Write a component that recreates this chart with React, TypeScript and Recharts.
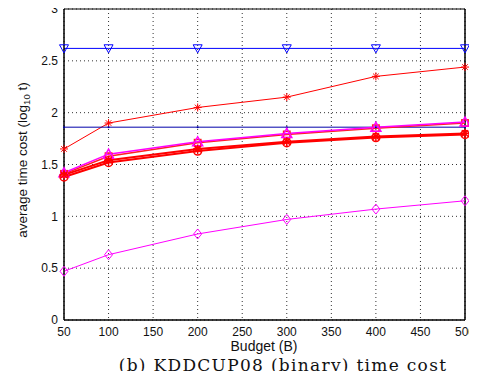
import React from 'react';
import { LineChart, Line, XAxis, YAxis, CartesianGrid, ReferenceLine, Label } from 'recharts';

const budgets = [50, 100, 200, 300, 400, 500];
const blueTri = [2.62, 2.62, 2.62, 2.62, 2.62, 2.62];
const redStar = [1.65, 1.9, 2.05, 2.15, 2.35, 2.44];
const blueFlat = [1.86, 1.86, 1.86, 1.86, 1.86, 1.86];
const magentaTri = [1.42, 1.6, 1.72, 1.8, 1.86, 1.91];
const redSquare = [1.41, 1.58, 1.71, 1.79, 1.85, 1.9];
const redCircle = [1.38, 1.52, 1.63, 1.71, 1.76, 1.79];
const redStar2 = [1.4, 1.54, 1.65, 1.72, 1.77, 1.8];
const magentaDiamond = [0.47, 0.63, 0.83, 0.97, 1.07, 1.15];

const xTicks = [50, 100, 150, 200, 250, 300, 350, 400, 450, 500];
const yTicks = [0, 0.5, 1, 1.5, 2, 2.5, 3];

const data = budgets.map((b, i) => ({
  b,
  blueTri: blueTri[i],
  redStar: redStar[i],
  blueFlat: blueFlat[i],
  magentaTri: magentaTri[i],
  redSquare: redSquare[i],
  redCircle: redCircle[i],
  redStar2: redStar2[i],
  magentaDiamond: magentaDiamond[i],
}));

type Shape = 'triDown' | 'triUp' | 'star' | 'square' | 'circle' | 'diamond' | 'point';

const makeDot = (shape: Shape, color: string, s: number, sw = 1) => (props: any) => {
  const { cx, cy, index } = props;
  if (cx == null || cy == null) return <g key={index} />;
  const k = `d${index}`;
  switch (shape) {
    case 'triDown':
      return <polygon key={k} points={`${cx - s},${cy - s * 0.8} ${cx + s},${cy - s * 0.8} ${cx},${cy + s}`} fill="none" stroke={color} strokeWidth={sw} />;
    case 'triUp':
      return <polygon key={k} points={`${cx - s},${cy + s * 0.8} ${cx + s},${cy + s * 0.8} ${cx},${cy - s}`} fill="none" stroke={color} strokeWidth={sw} />;
    case 'square':
      return <rect key={k} x={cx - s * 0.8} y={cy - s * 0.8} width={s * 1.6} height={s * 1.6} fill="none" stroke={color} strokeWidth={sw} />;
    case 'circle':
      return <circle key={k} cx={cx} cy={cy} r={s} fill="none" stroke={color} strokeWidth={sw} />;
    case 'diamond':
      return <polygon key={k} points={`${cx},${cy - s} ${cx + s * 0.8},${cy} ${cx},${cy + s} ${cx - s * 0.8},${cy}`} fill="none" stroke={color} strokeWidth={sw} />;
    case 'point':
      return <circle key={k} cx={cx} cy={cy} r={1} fill={color} />;
    case 'star':
    default: {
      const d = s * 0.7;
      return (
        <g key={k} stroke={color} strokeWidth={sw}>
          <line x1={cx - s} y1={cy} x2={cx + s} y2={cy} />
          <line x1={cx} y1={cy - s} x2={cx} y2={cy + s} />
          <line x1={cx - d} y1={cy - d} x2={cx + d} y2={cy + d} />
          <line x1={cx - d} y1={cy + d} x2={cx + d} y2={cy - d} />
        </g>
      );
    }
  }
};

const sans = 'Liberation Sans, Arial, sans-serif';
const tickStyle = { fontSize: 12, fill: '#111', fontFamily: sans };

const YTitle = () => (
  <text
    x={22}
    y={160}
    transform="rotate(-90, 22, 160)"
    textAnchor="middle"
    dominantBaseline="central"
    fontSize={13.5}
    fontFamily={sans}
    fill="#111"
  >
    average time cost (log
    <tspan fontSize={9.5} dy={4}>10</tspan>
    <tspan dy={-4}> t)</tspan>
  </text>
);

const XTitle = () => (
  <text x={264} y={346} textAnchor="middle" dominantBaseline="central" fontSize={14} fontFamily={sans} fill="#111">
    Budget (B)
  </text>
);

const App: React.FC = () => {
  return (
    <div style={{ position: 'relative', width: 477, height: 379, margin: -8, background: '#fff' }}>
      <LineChart
        width={477}
        height={379}
        data={data}
        margin={{ top: 9, right: 12, left: 0, bottom: 0 }}
        style={{ overflow: 'visible' }}
      >
        <CartesianGrid stroke="#333" strokeDasharray="1 3" />
        <XAxis
          dataKey="b"
          type="number"
          domain={[50, 500]}
          ticks={xTicks}
          height={59}
          tick={tickStyle}
          tickSize={-5}
          tickMargin={12}
          axisLine={{ stroke: '#000', strokeWidth: 1.5 }}
          tickLine={false}
        >
          <Label content={<XTitle />} />
        </XAxis>
        <YAxis
          type="number"
          domain={[0, 3]}
          ticks={yTicks}
          width={64}
          tick={tickStyle}
          tickSize={-5}
          tickMargin={11}
          axisLine={{ stroke: '#000', strokeWidth: 1.5 }}
          tickLine={false}
        >
          <Label content={<YTitle />} />
        </YAxis>
        <ReferenceLine y={3} stroke="#000" strokeWidth={1} />
        <ReferenceLine x={500} stroke="#000" strokeWidth={1.5} />
        <Line dataKey="blueTri" stroke="#0000ff" strokeWidth={1} dot={makeDot('triDown', '#0000ff', 4.5)} isAnimationActive={false} />
        <Line dataKey="redStar" stroke="#ff0000" strokeWidth={1} dot={makeDot('star', '#ff0000', 4)} isAnimationActive={false} />
        <Line dataKey="blueFlat" stroke="#0000aa" strokeWidth={1} dot={makeDot('point', '#0000aa', 1)} isAnimationActive={false} />
        <Line dataKey="redSquare" stroke="#ff2020" strokeWidth={1.5} dot={makeDot('square', '#ff2020', 4, 1.5)} isAnimationActive={false} />
        <Line dataKey="magentaTri" stroke="#ff00ff" strokeWidth={1.5} dot={makeDot('triUp', '#ff00ff', 5, 1.5)} isAnimationActive={false} />
        <Line dataKey="redCircle" stroke="#ff0000" strokeWidth={2} dot={makeDot('circle', '#ff0000', 4, 1.5)} isAnimationActive={false} />
        <Line dataKey="redStar2" stroke="#ff0000" strokeWidth={2} dot={makeDot('star', '#ff0000', 4.5, 1.5)} isAnimationActive={false} />
        <Line dataKey="magentaDiamond" stroke="#ff00ff" strokeWidth={1} dot={makeDot('diamond', '#ff00ff', 5)} isAnimationActive={false} />
      </LineChart>
      <div
        style={{
          position: 'absolute',
          left: 100,
          width: 366,
          top: 355,
          textAlign: 'center',
          fontFamily: 'DejaVu Serif, serif',
          fontSize: 17,
          letterSpacing: '1.3px',
          lineHeight: '20px',
          color: '#111',
          whiteSpace: 'nowrap',
        }}
      >
        (b) KDDCUP08 (binary) time cost
      </div>
    </div>
  );
};

export default App;
